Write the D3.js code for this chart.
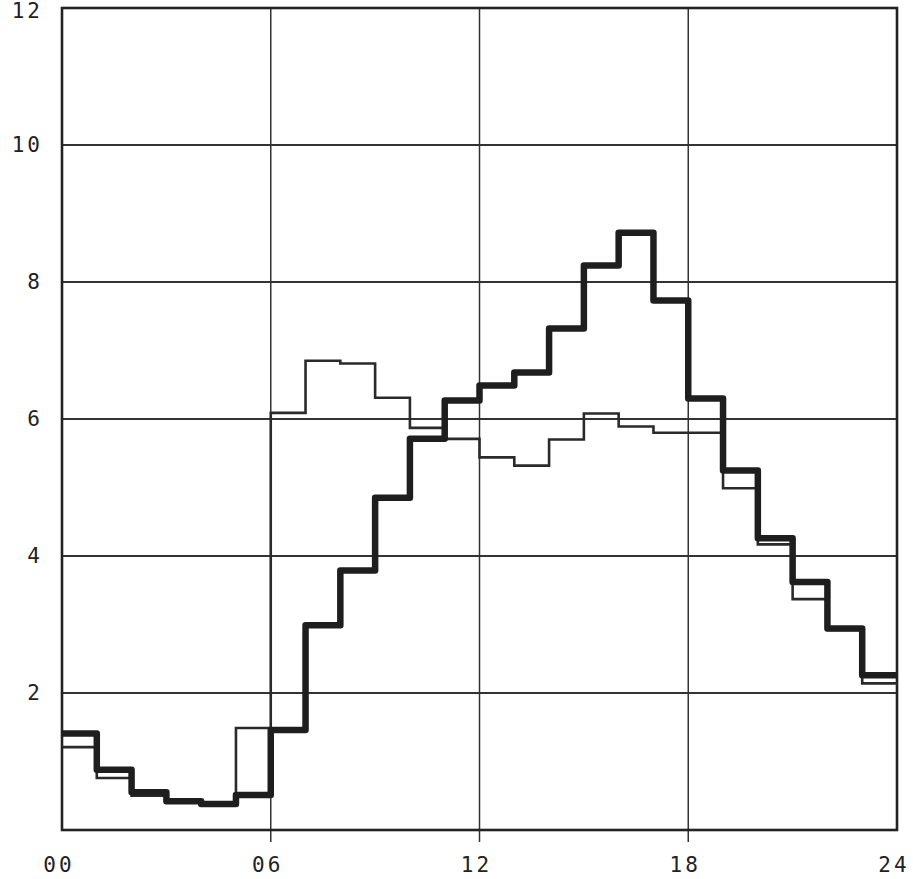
<!DOCTYPE html>
<html>
<head>
<meta charset="utf-8">
<script src="https://cdn.jsdelivr.net/npm/d3@7"></script>
<style>
  body { margin: 0; background: #fff; }
  svg text { font-family: "DejaVu Sans Mono", "Liberation Mono", monospace; fill: #222; }
</style>
</head>
<body>
<div id="chart"></div>
<script>
// hourly values, 00..23
var hours = d3.range(0, 24);
var thinSeries = [1.21, 0.76, 0.50, 0.40, 0.40, 1.49,
                  6.09, 6.85, 6.81, 6.31, 5.87, 5.71,
                  5.44, 5.32, 5.70, 6.08, 5.89, 5.80,
                  5.80, 4.99, 4.17, 3.37, 2.92, 2.14];
var thickSeries = [1.41, 0.88, 0.55, 0.42, 0.38, 0.51,
                   1.46, 2.99, 3.79, 4.85, 5.71, 6.27,
                   6.49, 6.68, 7.32, 8.24, 8.72, 7.73,
                   6.30, 5.25, 4.26, 3.62, 2.94, 2.26];
var xTicks = [0, 6, 12, 18, 24];
var xTickLabels = ["00", "06", "12", "18", "24"];
var yTicks = [2, 4, 6, 8, 10, 12];

var width = 913, height = 879;

var svg = d3.select("#chart").append("svg")
	.attr("width", width)
	.attr("height", height);

var x = d3.scaleLinear().domain([0, 24]).range([62, 897]);
var y = d3.scaleLinear().domain([0, 12]).range([830, 8]);

// grid
svg.append("g").selectAll("line.h")
	.data(yTicks.filter(function(d){ return d < 12; }))
	.enter().append("line")
	.attr("x1", x(0)).attr("x2", x(24))
	.attr("y1", function(d){ return y(d); })
	.attr("y2", function(d){ return y(d); })
	.attr("stroke", "#333")
	.attr("stroke-width", 1.8);

svg.append("g").selectAll("line.v")
	.data([6, 12, 18])
	.enter().append("line")
	.attr("x1", function(d){ return x(d); })
	.attr("x2", function(d){ return x(d); })
	.attr("y1", y(12)).attr("y2", y(0) + 12)
	.attr("stroke", "#333")
	.attr("stroke-width", 1.5);

// frame
svg.append("rect")
	.attr("x", x(0)).attr("y", y(12))
	.attr("width", x(24) - x(0))
	.attr("height", y(0) - y(12))
	.attr("fill", "none")
	.attr("stroke", "#222")
	.attr("stroke-width", 2.6);

// tick labels
svg.append("g").selectAll("text")
	.data(xTicks)
	.enter().append("text")
	.attr("x", function(d){ return x(d) - 3; })
	.attr("y", 872)
	.attr("text-anchor", "middle")
	.attr("font-size", 21)
	.attr("letter-spacing", 3)
	.text(function(d, i){ return xTickLabels[i]; });

svg.append("g").selectAll("text")
	.data(yTicks)
	.enter().append("text")
	.attr("x", 43)
	.attr("y", function(d){ return d === 12 ? 18 : y(d) + 7; })
	.attr("text-anchor", "end")
	.attr("font-size", 21)
	.attr("letter-spacing", 3)
	.text(function(d){ return d; });

// step lines
function stepData(vals) {
	var pts = hours.map(function(h, i){ return [h, vals[i]]; });
	pts.push([24, vals[vals.length - 1]]);
	return pts;
}

var line = d3.line()
	.x(function(d){ return x(d[0]); })
	.y(function(d){ return y(d[1]); })
	.curve(d3.curveStepAfter);

svg.append("path")
	.datum(stepData(thinSeries))
	.attr("d", line)
	.attr("fill", "none")
	.attr("stroke", "#2a2a2a")
	.attr("stroke-width", 2.6);

svg.append("path")
	.datum(stepData(thickSeries))
	.attr("d", line)
	.attr("fill", "none")
	.attr("stroke", "#1e1e1e")
	.attr("stroke-width", 6.5)
	.attr("stroke-linejoin", "round");
</script>
</body>
</html>
